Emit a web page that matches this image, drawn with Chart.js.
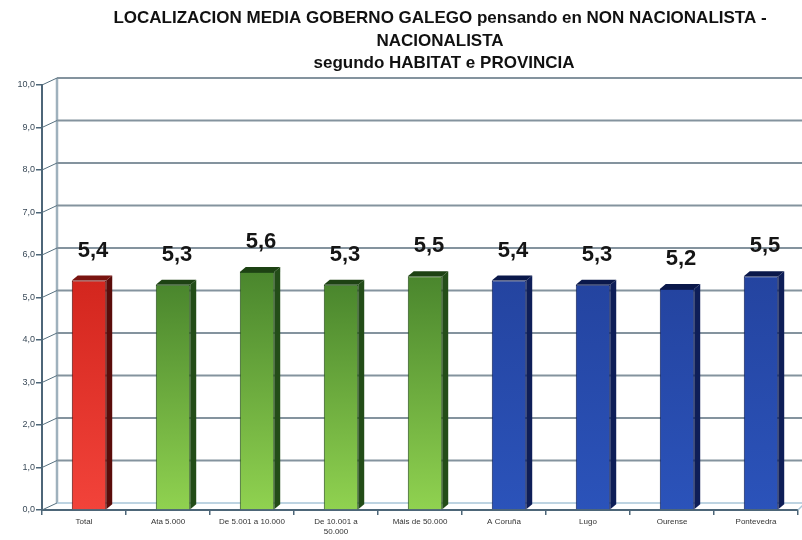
<!DOCTYPE html>
<html lang="gl">
<head>
<meta charset="UTF-8">
<title>Localización media Goberno galego</title>
<script src="https://cdn.jsdelivr.net/npm/chart.js"></script>
<style>
  html, body { margin: 0; padding: 0; background: #fff; }
  #caixa { width: 802px; height: 540px; }
</style>
</head>
<body>
<div id="caixa"><canvas id="grafico"></canvas></div>
<script>
// datos
var categorias = ['Total', 'Ata 5.000', 'De 5.001 a 10.000', ['De 10.001 a', '50.000'], 'Máis de 50.000',
                  'A Coruña', 'Lugo', 'Ourense', 'Pontevedra'];
var medias = [5.4, 5.3, 5.6, 5.3, 5.5, 5.4, 5.3, 5.2, 5.5];
var grupos = ['total', 'habitat', 'habitat', 'habitat', 'habitat', 'provincia', 'provincia', 'provincia', 'provincia'];
var titulo = ['LOCALIZACION MEDIA GOBERNO GALEGO pensando en NON NACIONALISTA -',
              'NACIONALISTA',
              'segundo HABITAT e PROVINCIA'];

var cores = {
    total:     { arriba: '#d3261e', abaixo: '#f2433a', lado: '#5a0c0a', teito: '#7a1410' },
    habitat:   { arriba: '#4a862d', abaixo: '#90d250', lado: '#234d18', teito: '#1d4213' },
    provincia: { arriba: '#2444a0', abaixo: '#2b53ba', lado: '#0e1e58', teito: '#0a184a' }
};

// profundidade do efecto 3D
var FONDO_X = 15, FONDO_Y = 7;
var BARRA_DX = 5, CARA_X = 6, CARA_Y = 5;

function coma(v) { return v.toFixed(1).replace('.', ','); }

// parede do fondo, liñas de grella e chan
var fondo3d = {
    id: 'fondo3d',
    beforeDatasetsDraw: function (chart) {
        var ctx = chart.ctx, y = chart.scales.y, a = chart.chartArea;
        ctx.save();
        // parede esquerda
        ctx.strokeStyle = '#9fb1bd';
        ctx.lineWidth = 2.5;
        ctx.beginPath();
        ctx.moveTo(a.left + FONDO_X, y.getPixelForValue(10) - FONDO_Y);
        ctx.lineTo(a.left + FONDO_X, y.getPixelForValue(0) - FONDO_Y);
        ctx.stroke();
        y.ticks.forEach(function (t) {
            var yf = y.getPixelForValue(t.value);
            ctx.strokeStyle = t.value === 0 ? '#a9c6d8' : '#84939e';
            ctx.lineWidth = t.value === 0 ? 1.5 : 2;
            ctx.beginPath();
            ctx.moveTo(a.left + FONDO_X, yf - FONDO_Y);
            ctx.lineTo(chart.width, yf - FONDO_Y);
            ctx.stroke();
            ctx.strokeStyle = '#56707f';
            ctx.lineWidth = 1;
            ctx.beginPath();
            ctx.moveTo(a.left, yf);
            ctx.lineTo(a.left + FONDO_X, yf - FONDO_Y);
            ctx.stroke();
        });
        // bordo dereito do chan
        var y0 = y.getPixelForValue(0);
        ctx.strokeStyle = '#a9c6d8';
        ctx.lineWidth = 1.5;
        ctx.beginPath();
        ctx.moveTo(a.right, y0);
        ctx.lineTo(a.right + 5, y0 - 5);
        ctx.stroke();
        ctx.restore();

        // as barras van un pouco cara á dereita
        ctx.save();
        ctx.translate(BARRA_DX, 0);
    },
    afterDatasetsDraw: function (chart) {
        var ctx = chart.ctx;
        var meta = chart.getDatasetMeta(0);
        meta.data.forEach(function (bar, i) {
            var p = bar.getProps(['x', 'y', 'base', 'width'], true);
            var l = p.x - p.width / 2, r = p.x + p.width / 2;
            var c = cores[grupos[i]];
            ctx.fillStyle = c.lado;
            ctx.beginPath();
            ctx.moveTo(r, p.y);
            ctx.lineTo(r + CARA_X, p.y - CARA_Y);
            ctx.lineTo(r + CARA_X, p.base - CARA_Y);
            ctx.lineTo(r, p.base);
            ctx.closePath();
            ctx.fill();
            ctx.fillStyle = c.teito;
            ctx.beginPath();
            ctx.moveTo(l, p.y);
            ctx.lineTo(l + CARA_X, p.y - CARA_Y);
            ctx.lineTo(r + CARA_X, p.y - CARA_Y);
            ctx.lineTo(r, p.y);
            ctx.closePath();
            ctx.fill();

            ctx.fillStyle = '#151515';
            ctx.font = 'bold 22px "Liberation Sans", Arial, sans-serif';
            ctx.textAlign = 'center';
            ctx.textBaseline = 'alphabetic';
            ctx.fillText(coma(medias[i]), p.x + 4, p.y - 24);
        });
        ctx.restore();
    }
};

var cabeceira = {
    id: 'cabeceira',
    afterDraw: function (chart) {
        var ctx = chart.ctx;
        ctx.save();
        ctx.fillStyle = '#111';
        ctx.textAlign = 'center';
        ctx.textBaseline = 'middle';
        ctx.font = 'bold 17px "Liberation Sans", Arial, sans-serif';
        ctx.fillText(titulo[0], 440, 18);
        ctx.fillText(titulo[1], 440, 41);
        ctx.fillText(titulo[2], 444, 63);
        ctx.restore();
    }
};

function recheo(context) {
    var c = cores[grupos[context.dataIndex]];
    var chart = context.chart, y = chart.scales.y;
    if (!chart.chartArea || !y) return c.arriba;
    var top = y.getPixelForValue(medias[context.dataIndex]);
    var bottom = y.getPixelForValue(0);
    if (!isFinite(top) || !isFinite(bottom)) return c.arriba;
    var g = chart.ctx.createLinearGradient(0, top, 0, bottom);
    g.addColorStop(0, c.arriba);
    g.addColorStop(1, c.abaixo);
    return g;
}

new Chart(document.getElementById('grafico'), {
    type: 'bar',
    data: {
        labels: categorias,
        datasets: [{
            data: medias,
            backgroundColor: recheo,
            borderColor: function (context) { return cores[grupos[context.dataIndex]].lado; },
            borderWidth: 1,
            categoryPercentage: 1,
            barPercentage: 0.41,
            clip: false
        }]
    },
    options: {
        responsive: true,
        maintainAspectRatio: false,
        animation: false,
        layout: { padding: { top: 85, right: 4, left: 0, bottom: 0 } },
        plugins: {
            legend: { display: false },
            tooltip: { enabled: false },
            title: { display: false }
        },
        scales: {
            x: {
                afterFit: function (s) { s.height = 30; },
                grid: { drawOnChartArea: false, drawTicks: true, tickLength: 5, color: '#4d6678', lineWidth: 1.5 },
                border: { color: '#4d6678', width: 2 },
                ticks: {
                    color: '#333',
                    font: { size: 8, family: '"Liberation Sans", Arial, sans-serif' },
                    padding: 2,
                    maxRotation: 0,
                    autoSkip: false
                }
            },
            y: {
                min: 0,
                max: 10,
                afterFit: function (s) { s.width = 42; },
                grid: { drawOnChartArea: false, drawTicks: true, tickLength: 6, color: '#4d6678', lineWidth: 1.5 },
                border: { color: '#4d6678', width: 2 },
                ticks: {
                    stepSize: 1,
                    color: '#3a4a58',
                    font: { size: 9, family: '"Liberation Sans", Arial, sans-serif' },
                    padding: 1,
                    callback: function (v) { return coma(v); }
                }
            }
        }
    },
    plugins: [fondo3d, cabeceira]
});
</script>
</body>
</html>
